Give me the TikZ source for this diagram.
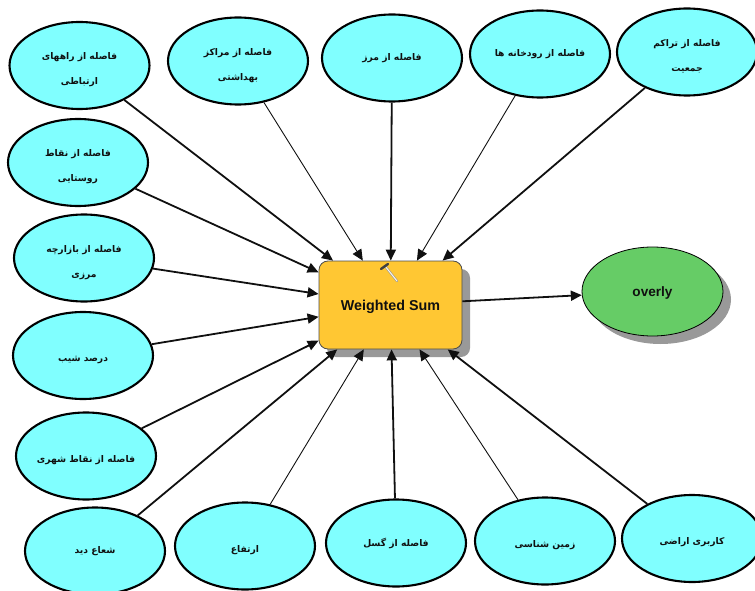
\documentclass[tikz,border=0pt]{standalone}
\usepackage{fontspec}
\usetikzlibrary{shapes.geometric,arrows.meta}
\setmainfont{Liberation Sans}
\newfontfamily\arabicfont[Script=Arabic]{DejaVu Sans}
\TeXXeTstate=1
\newcommand{\fa}[1]{\raisebox{-2.2pt}{\arabicfont\bfseries\fontsize{9.2}{10}\selectfont\beginR #1\endR}}
\newcommand{\fb}[2]{\rule{0pt}{14pt}\fa{#1}\\[13pt]\fa{#2}}
\newcommand{\fc}[1]{\rule{0pt}{13pt}\fa{#1}}
\definecolor{cy}{HTML}{80FFFF}
\definecolor{or}{HTML}{FFC733}
\definecolor{gr}{HTML}{66CC66}
\definecolor{sh}{HTML}{999999}
\definecolor{ink}{HTML}{101010}
\tikzset{
  x=1pt,y=-1pt,
  factor/.style={ellipse,draw=black,line width=2.1pt,fill=cy,minimum width=140pt,minimum height=87pt,inner sep=0pt,align=center,text=ink},
  tool/.style={rectangle,rounded corners=9pt,draw=black!70,line width=0.8pt,fill=or,minimum width=143pt,minimum height=88pt,inner sep=0pt,text=ink,text height=10pt,text depth=0pt,font=\bfseries\fontsize{14.3}{15}\selectfont},
  result/.style={ellipse,draw=black,line width=0.8pt,fill=gr,minimum width=141pt,minimum height=89pt,inner sep=0pt,text=ink,text height=10pt,text depth=0pt,font=\bfseries\fontsize{13.6}{15}\selectfont},
  shade box/.style={rectangle,rounded corners=9pt,fill=sh,minimum width=143pt,minimum height=88pt},
  shade ell/.style={ellipse,fill=sh,minimum width=141pt,minimum height=89pt,inner sep=0pt},
  link/.style={-{Triangle[length=11pt,width=10pt]},line width=1.8pt,draw=ink},
  thin link/.style={link,line width=0.9pt},
}
\begin{document}
\begin{tikzpicture}
\useasboundingbox (0,0) rectangle (755,591);
\begin{scope}
\clip (0,0) rectangle (755,591);
\node[shade box] at (398.5,313) {};
\node[shade ell] at (660.5,299.5) {};
\node[tool] (box) at (390.5,305) {Weighted Sum};
\node[result] (out) at (652.5,291.5) {overly};
\node[factor] (a1) at (79.5,65.5) {\fb{فاصله از راههای}{ارتباطی}};
\node[factor] (a2) at (238,61) {\fb{فاصله از مراکز}{بهداشتی}};
\node[factor] (a3) at (392,58) {\fa{فاصله از مرز}};
\node[factor] (a4) at (540,54) {\fa{فاصله از رودخانه ها}};
\node[factor] (a5) at (687,52) {\fb{فاصله از تراکم}{جمعیت}};
\node[factor] (a6) at (78,162.5) {\fb{فاصله از نقاط}{روستایی}};
\node[factor] (a7) at (84,258) {\fb{فاصله از بازارچه}{مرزی}};
\node[factor] (a8) at (83,355.5) {\fc{درصد شیب}};
\node[factor] (a9) at (86,456) {\fc{فاصله از نقاط شهری}};
\node[factor] (a10) at (95,551) {\fa{شعاع دید}};
\node[factor] (a11) at (245,546) {\fc{ارتفاع}};
\node[factor] (a12) at (396,543) {\fa{فاصله از گسل}};
\node[factor] (a13) at (545,541) {\fc{زمین شناسی}};
\node[factor] (a14) at (692,538.5) {\fc{کاربری اراضی}};
\foreach \n in {1,3,5,6,7,8,9,10,12,14} \draw[link] (a\n) -- (box);
\foreach \n in {2,4,11,13} \draw[thin link] (a\n) -- (box);
\draw[link] (box) -- (out);
% hammer icon
\draw[line width=2.2pt,black!40,line cap=round] (385,266) -- (397,281);
\draw[line width=1pt,white!90!or,line cap=round] (385,266) -- (397,281);
\draw[line width=2.4pt,black!75,line cap=round] (381,269) -- (388,264);
\end{scope}
\end{tikzpicture}
\end{document}
